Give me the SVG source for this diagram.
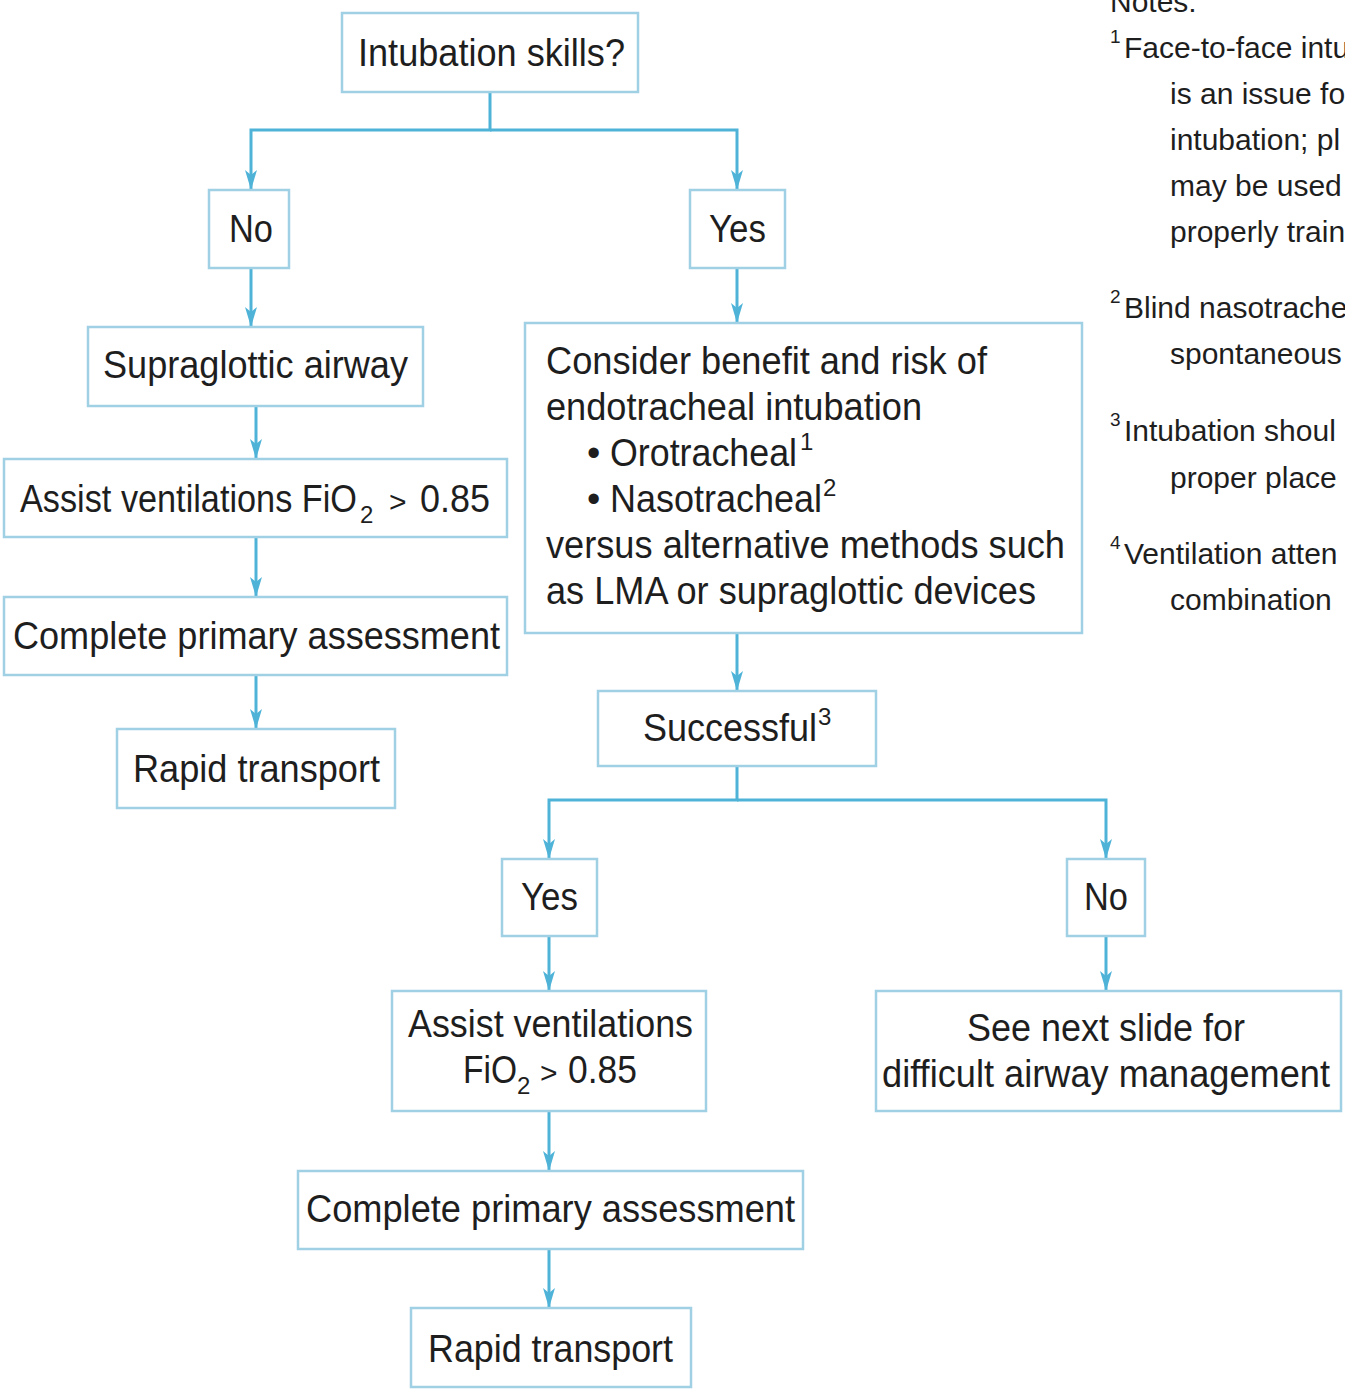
<svg xmlns="http://www.w3.org/2000/svg" width="1345" height="1390" viewBox="0 0 1345 1390">
<defs>
<style>
.box{fill:#ffffff;stroke:#9fd0e3;stroke-width:2.5}
.t{font-family:"Liberation Sans",Arial,Helvetica,sans-serif;font-size:38px;fill:#1e1e1e}
.sup{font-size:24px}
.gt{font-size:30px}
.n{font-family:"Liberation Sans",Arial,Helvetica,sans-serif;font-size:30px;fill:#1e1e1e}
.ns{font-size:19px}
.ln{fill:none;stroke:#4fb3d8;stroke-width:3}
</style>
<marker id="ah" viewBox="0 0 20 12" refX="20" refY="6" markerWidth="20" markerHeight="12" markerUnits="userSpaceOnUse" orient="auto">
<path d="M0,0 L20,6 L0,12 L5,6 z" fill="#4fb3d8"/>
</marker>
</defs>
<rect width="1345" height="1390" fill="#ffffff"/>

<g id="connectors">
<path class="ln" d="M490,92 V130 H251 V190" marker-end="url(#ah)"/>
<path class="ln" d="M490,130 H737 V190" marker-end="url(#ah)"/>
<path class="ln" d="M251,268 V327" marker-end="url(#ah)"/>
<path class="ln" d="M256,406 V459" marker-end="url(#ah)"/>
<path class="ln" d="M256,537 V597" marker-end="url(#ah)"/>
<path class="ln" d="M256,675 V729" marker-end="url(#ah)"/>
<path class="ln" d="M737,268 V323" marker-end="url(#ah)"/>
<path class="ln" d="M737,633 V691" marker-end="url(#ah)"/>
<path class="ln" d="M737,766 V800 H549 V859" marker-end="url(#ah)"/>
<path class="ln" d="M737,800 H1106 V859" marker-end="url(#ah)"/>
<path class="ln" d="M549,936 V991" marker-end="url(#ah)"/>
<path class="ln" d="M1106,936 V991" marker-end="url(#ah)"/>
<path class="ln" d="M549,1111 V1171" marker-end="url(#ah)"/>
<path class="ln" d="M549,1249 V1308" marker-end="url(#ah)"/>
</g>

<g id="n_intubation">
<rect class="box" x="342" y="13" width="296" height="79"/>
<text class="t" x="358" y="66" textLength="267" lengthAdjust="spacingAndGlyphs">Intubation skills?</text>
</g>
<g id="n_no1">
<rect class="box" x="209" y="190" width="80" height="78"/>
<text class="t" x="229" y="242" textLength="44" lengthAdjust="spacingAndGlyphs">No</text>
</g>
<g id="n_yes1">
<rect class="box" x="690" y="190" width="95" height="78"/>
<text class="t" x="709" y="242" textLength="57" lengthAdjust="spacingAndGlyphs">Yes</text>
</g>
<g id="n_supraglottic">
<rect class="box" x="88" y="327" width="335" height="79"/>
<text class="t" x="103" y="378" textLength="305" lengthAdjust="spacingAndGlyphs">Supraglottic airway</text>
</g>
<g id="n_assist1">
<rect class="box" x="4" y="459" width="503" height="78"/>
<text class="t" x="20" y="512"><tspan textLength="337" lengthAdjust="spacingAndGlyphs">Assist ventilations FiO</tspan><tspan class="sup" x="360" y="523">2</tspan><tspan class="gt" x="389" y="512">&gt;</tspan><tspan x="420" y="512" textLength="70" lengthAdjust="spacingAndGlyphs">0.85</tspan></text>
</g>
<g id="n_complete1">
<rect class="box" x="4" y="597" width="503" height="78"/>
<text class="t" x="13" y="649" textLength="487" lengthAdjust="spacingAndGlyphs">Complete primary assessment</text>
</g>
<g id="n_rapid1">
<rect class="box" x="117" y="729" width="278" height="79"/>
<text class="t" x="133" y="782" textLength="247" lengthAdjust="spacingAndGlyphs">Rapid transport</text>
</g>
<g id="n_consider">
<rect class="box" x="525" y="323" width="557" height="310"/>
<text class="t" x="546" y="374" textLength="441" lengthAdjust="spacingAndGlyphs">Consider benefit and risk of</text>
<text class="t" x="546" y="420" textLength="376" lengthAdjust="spacingAndGlyphs">endotracheal intubation</text>
<text class="t" x="587" y="466">•<tspan x="610" textLength="187" lengthAdjust="spacingAndGlyphs">Orotracheal</tspan><tspan class="sup" x="800" y="450">1</tspan></text>
<text class="t" x="587" y="512">•<tspan x="610" textLength="212" lengthAdjust="spacingAndGlyphs">Nasotracheal</tspan><tspan class="sup" x="823" y="496">2</tspan></text>
<text class="t" x="546" y="558" textLength="519" lengthAdjust="spacingAndGlyphs">versus alternative methods such</text>
<text class="t" x="546" y="604" textLength="490" lengthAdjust="spacingAndGlyphs">as LMA or supraglottic devices</text>
</g>
<g id="n_successful">
<rect class="box" x="598" y="691" width="278" height="75"/>
<text class="t" x="643" y="741"><tspan textLength="174" lengthAdjust="spacingAndGlyphs">Successful</tspan><tspan class="sup" x="818" y="725">3</tspan></text>
</g>
<g id="n_yes2">
<rect class="box" x="502" y="859" width="95" height="77"/>
<text class="t" x="521" y="910" textLength="57" lengthAdjust="spacingAndGlyphs">Yes</text>
</g>
<g id="n_no2">
<rect class="box" x="1067" y="859" width="78" height="77"/>
<text class="t" x="1084" y="910" textLength="44" lengthAdjust="spacingAndGlyphs">No</text>
</g>
<g id="n_assist2">
<rect class="box" x="392" y="991" width="314" height="120"/>
<text class="t" x="408" y="1037" textLength="285" lengthAdjust="spacingAndGlyphs">Assist ventilations</text>
<text class="t" x="463" y="1083"><tspan textLength="54" lengthAdjust="spacingAndGlyphs">FiO</tspan><tspan class="sup" x="517" y="1094">2</tspan><tspan class="gt" x="540" y="1083">&gt;</tspan><tspan x="568" y="1083" textLength="69" lengthAdjust="spacingAndGlyphs">0.85</tspan></text>
</g>
<g id="n_seenext">
<rect class="box" x="876" y="991" width="465" height="120"/>
<text class="t" x="967" y="1041" textLength="278" lengthAdjust="spacingAndGlyphs">See next slide for</text>
<text class="t" x="882" y="1087" textLength="448" lengthAdjust="spacingAndGlyphs">difficult airway management</text>
</g>
<g id="n_complete2">
<rect class="box" x="298" y="1171" width="505" height="78"/>
<text class="t" x="306" y="1222" textLength="489" lengthAdjust="spacingAndGlyphs">Complete primary assessment</text>
</g>
<g id="n_rapid2">
<rect class="box" x="411" y="1308" width="280" height="79"/>
<text class="t" x="428" y="1362" textLength="245" lengthAdjust="spacingAndGlyphs">Rapid transport</text>
</g>

<g id="notes">
<text class="n" x="1110" y="12">Notes:</text>
<text class="n" x="1110" y="58"><tspan class="ns" y="43">1</tspan><tspan x="1124" y="58">Face-to-face intu</tspan></text>
<text class="n" x="1170" y="104">is an issue fo</text>
<text class="n" x="1170" y="150">intubation; pl</text>
<text class="n" x="1170" y="196">may be used</text>
<text class="n" x="1170" y="242">properly train</text>
<text class="n" x="1110" y="318"><tspan class="ns" y="303">2</tspan><tspan x="1124" y="318">Blind nasotrache</tspan></text>
<text class="n" x="1170" y="364">spontaneous</text>
<text class="n" x="1110" y="441"><tspan class="ns" y="426">3</tspan><tspan x="1124" y="441">Intubation shoul</tspan></text>
<text class="n" x="1170" y="488">proper place</text>
<text class="n" x="1110" y="564"><tspan class="ns" y="549">4</tspan><tspan x="1124" y="564">Ventilation atten</tspan></text>
<text class="n" x="1170" y="610">combination</text>
</g>
</svg>
